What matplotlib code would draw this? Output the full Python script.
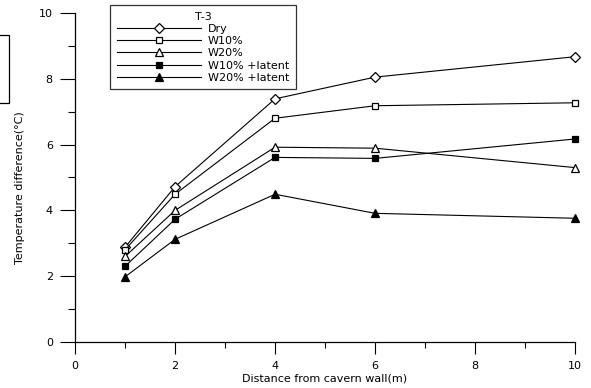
import matplotlib
matplotlib.use("Agg")
import matplotlib.pyplot as plt
from matplotlib import patches, rc
from matplotlib.ticker import MultipleLocator

rc("font", family=["DejaVu Sans"], size=8)

# distance from cavern wall (m)
distance = [1, 2, 4, 6, 10]

# temperature difference for each case (deg C)
dry = [2.88, 4.72, 7.39, 8.05, 8.67]
w10 = [2.80, 4.49, 6.80, 7.18, 7.27]
w20 = [2.60, 4.00, 5.92, 5.89, 5.30]
w10_latent = [2.30, 3.73, 5.61, 5.58, 6.17]
w20_latent = [1.98, 3.12, 4.49, 3.91, 3.76]

series_labels = ["Dry", "W10%", "W20%", "W10% +latent", "W20% +latent"]
legend_title = "T-3"

fig = plt.figure(figsize=(5.91, 3.88), dpi=100)
ax = fig.add_axes([0.127, 0.1186, 0.846, 0.848])

styles = [
    dict(marker="D", mfc="white", ms=5),
    dict(marker="s", mfc="white", ms=4.5),
    dict(marker="^", mfc="white", ms=6),
    dict(marker="s", mfc="black", ms=4.5),
    dict(marker="^", mfc="black", ms=6),
]
for values, label, style in zip(
    [dry, w10, w20, w10_latent, w20_latent], series_labels, styles
):
    ax.plot(
        distance,
        values,
        color="black",
        lw=0.8,
        mec="black",
        mew=0.9,
        label=label,
        clip_on=False,
        **style,
    )

ax.set_xlim(0, 10)
ax.set_ylim(0, 10)
ax.xaxis.set_major_locator(MultipleLocator(2))
ax.xaxis.set_minor_locator(MultipleLocator(1))
ax.yaxis.set_major_locator(MultipleLocator(2))
ax.yaxis.set_minor_locator(MultipleLocator(1))
ax.spines["right"].set_visible(False)
ax.spines["top"].set_visible(False)
ax.spines["left"].set_linewidth(0.9)
ax.spines["bottom"].set_linewidth(0.9)
ax.tick_params(axis="y", which="major", direction="out", length=11, width=0.8, pad=5)
ax.tick_params(axis="y", which="minor", direction="out", length=5, width=0.8)
ax.tick_params(axis="x", which="major", direction="out", length=8.5, width=0.8, pad=5)
ax.tick_params(axis="x", which="minor", direction="out", length=4, width=0.8)

ax.set_xlabel("Distance from cavern wall(m)", labelpad=2)
ax.set_ylabel("Temperature difference(\u00b0C)")
ax.yaxis.set_label_coords(-0.1, 0.468)

leg = ax.legend(
    title=legend_title,
    loc="upper left",
    bbox_to_anchor=(110 / 591, 1 - 5 / 388),
    bbox_transform=fig.transFigure,
    borderaxespad=0,
    frameon=True,
    fancybox=False,
    handlelength=7.6,
    handletextpad=0.6,
    labelspacing=0.2,
    borderpad=0.6,
    fontsize=8,
    title_fontsize=8,
)
leg.get_frame().set_edgecolor("black")
leg.get_frame().set_linewidth(0.9)

# fragment of a neighbouring panel cut off at the left edge
fig.patches.append(
    patches.Rectangle(
        (-0.01, 1 - 103 / 388),
        0.025,
        68 / 388,
        transform=fig.transFigure,
        fill=False,
        edgecolor="black",
        lw=0.9,
    )
)

fig.savefig("out.png", dpi=100)
